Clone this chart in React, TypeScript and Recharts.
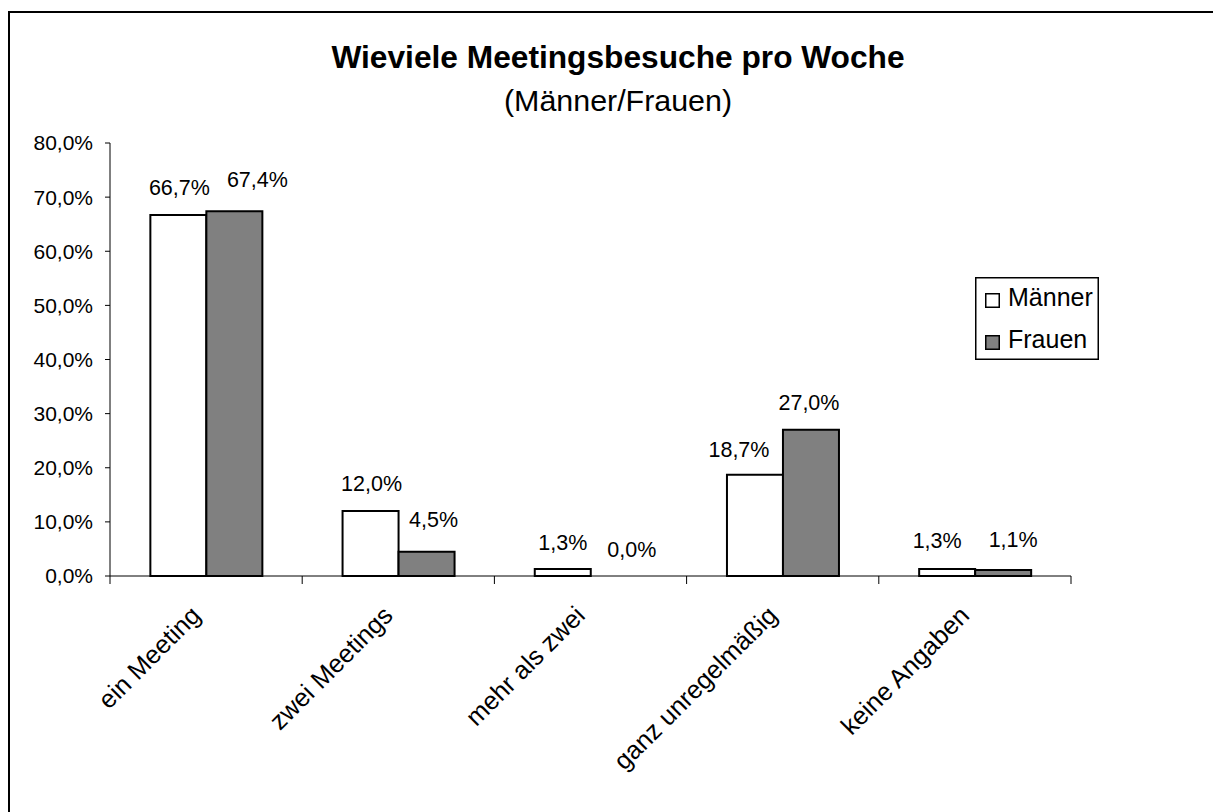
import React from "react";
import { Bar, BarChart, Cell, LabelList, Legend, XAxis, YAxis } from "recharts";

const CATEGORIES = ["ein Meeting", "zwei Meetings", "mehr als zwei", "ganz unregelmäßig", "keine Angaben"];
const MAENNER = [66.7, 12.0, 1.3, 18.7, 1.3];
const FRAUEN = [67.4, 4.5, 0.0, 27.0, 1.1];
const Y_TICKS = [0, 10, 20, 30, 40, 50, 60, 70, 80];
const SERIES = ["Männer", "Frauen"];

// hand-placed label nudges (dx, rise above bar top), like the original sheet
const NUDGE_M: [number, number][] = [[1, 20], [1, 20], [0, 19], [-16, 18], [-10, 21]];
const NUDGE_F: [number, number][] = [[23, 24], [7, 25], [13, 19], [-2, 20], [10, 23]];

const W = 1213;
const H = 812;
const MARGIN = { top: 143, right: 142, bottom: 0, left: 10 };
const Y_AXIS_W = 100;
const X_AXIS_H = 236;
const AXIS_Y = H - MARGIN.bottom - X_AXIS_H;
const CAT_W = (W - MARGIN.left - MARGIN.right - Y_AXIS_W) / CATEGORIES.length;
const FONT = "'Liberation Sans', Arial, sans-serif";

const data = CATEGORIES.map((name, i) => ({ name, m: MAENNER[i], f: FRAUEN[i] }));

const fmt = (v: number) => `${v.toFixed(1).replace(".", ",")}%`;

function CategoryTick(props: any) {
  const { x, payload, index } = props;
  const half = CAT_W / 2;
  const ax = x - 4;
  const ay = AXIS_Y + 41;
  return (
    <g>
      <line x1={x - half} y1={AXIS_Y} x2={x - half} y2={AXIS_Y + 8} stroke="#000" />
      {index === CATEGORIES.length - 1 ? (
        <line x1={x + half} y1={AXIS_Y} x2={x + half} y2={AXIS_Y + 8} stroke="#000" />
      ) : null}
      <text
        x={ax}
        y={ay}
        transform={`rotate(-45, ${ax}, ${ay})`}
        textAnchor="end"
        fontSize={25.5}
        fontFamily={FONT}
        fill="#000"
      >
        {payload.value}
      </text>
    </g>
  );
}

function makeLabel(nudges: [number, number][]) {
  return (props: any) => {
    const { x, y, width, height, value, index } = props;
    const [dx, rise] = nudges[index] ?? [0, 20];
    const top = Math.min(Number(y), Number(y) + Number(height));
    return (
      <text
        x={Number(x) + Number(width) / 2 + dx}
        y={top - rise}
        textAnchor="middle"
        fontSize={21.5}
        fontFamily={FONT}
        fill="#000"
      >
        {fmt(Number(value))}
      </text>
    );
  };
}

function LegendBox({ payload }: any) {
  const items = ((payload ?? []) as { value: string; color: string }[])
    .slice()
    .sort((a, b) => SERIES.indexOf(a.value) - SERIES.indexOf(b.value));
  return (
    <svg width={124} height={83} style={{ display: "block" }}>
      <rect x={0.75} y={0.75} width={122.5} height={81.5} fill="#fff" stroke="#000" strokeWidth={1.5} />
      {items.map((it, i) => (
        <g key={it.value}>
          <rect x={10.75} y={16.75 + i * 42} width={13.5} height={13.5} fill={it.color} stroke="#000" strokeWidth={1.5} />
          <text x={33} y={29 + i * 42} fontSize={25} fontFamily={FONT} fill="#000">
            {it.value}
          </text>
        </g>
      ))}
    </svg>
  );
}

// a zero bar still needs a (hair-thin, unstroked) rect so its label is drawn
const zeroSize = (v: unknown) => (Number(v) === 0 ? 0.01 : 0);

export default function App() {
  return (
    <div style={{ position: "fixed", left: 0, top: 0, width: W, height: H, overflow: "hidden", background: "#fff" }}>
      <div
        style={{
          position: "absolute",
          left: 8,
          top: 11,
          width: 1400,
          height: 1000,
          border: "2px solid #000",
          boxSizing: "border-box",
        }}
      />
      <div style={{ position: "absolute", left: 0, top: 0 }}>
        <BarChart width={W} height={H} data={data} margin={MARGIN} barCategoryGap="21%" barGap={0}>
          <XAxis
            dataKey="name"
            height={X_AXIS_H}
            interval={0}
            tickLine={false}
            axisLine={{ stroke: "#000" }}
            tick={<CategoryTick />}
          />
          <YAxis
            width={Y_AXIS_W}
            domain={[0, 80]}
            ticks={Y_TICKS}
            interval={0}
            tickSize={5}
            tickMargin={12}
            tickLine={{ stroke: "#000" }}
            axisLine={{ stroke: "#000" }}
            tickFormatter={(v) => fmt(Number(v))}
            tick={{ fontSize: 21, fontFamily: FONT, fill: "#000" }}
          />
          <Legend
            layout="vertical"
            align="center"
            verticalAlign="middle"
            wrapperStyle={{ left: 975, top: 277, width: 124, height: 83 }}
            content={<LegendBox />}
          />
          <Bar
            dataKey="m"
            name={SERIES[0]}
            fill="#ffffff"
            stroke="#000"
            strokeWidth={2}
            minPointSize={zeroSize}
            isAnimationActive={false}
          >
            {MAENNER.map((v, i) => (
              <Cell key={i} stroke={v === 0 ? "none" : "#000"} />
            ))}
            <LabelList dataKey="m" content={makeLabel(NUDGE_M)} />
          </Bar>
          <Bar
            dataKey="f"
            name={SERIES[1]}
            fill="#808080"
            stroke="#000"
            strokeWidth={2}
            minPointSize={zeroSize}
            isAnimationActive={false}
          >
            {FRAUEN.map((v, i) => (
              <Cell key={i} stroke={v === 0 ? "none" : "#000"} />
            ))}
            <LabelList dataKey="f" content={makeLabel(NUDGE_F)} />
          </Bar>
        </BarChart>
      </div>
      <svg width={W} height={130} style={{ position: "absolute", left: 0, top: 0, pointerEvents: "none" }}>
        <text x={618} y={68} textAnchor="middle" fontSize={31.7} fontWeight="bold" fontFamily={FONT} fill="#000">
          Wieviele Meetingsbesuche pro Woche
        </text>
        <text x={618} y={111} textAnchor="middle" fontSize={30.4} fontFamily={FONT} fill="#000">
          (Männer/Frauen)
        </text>
      </svg>
    </div>
  );
}
